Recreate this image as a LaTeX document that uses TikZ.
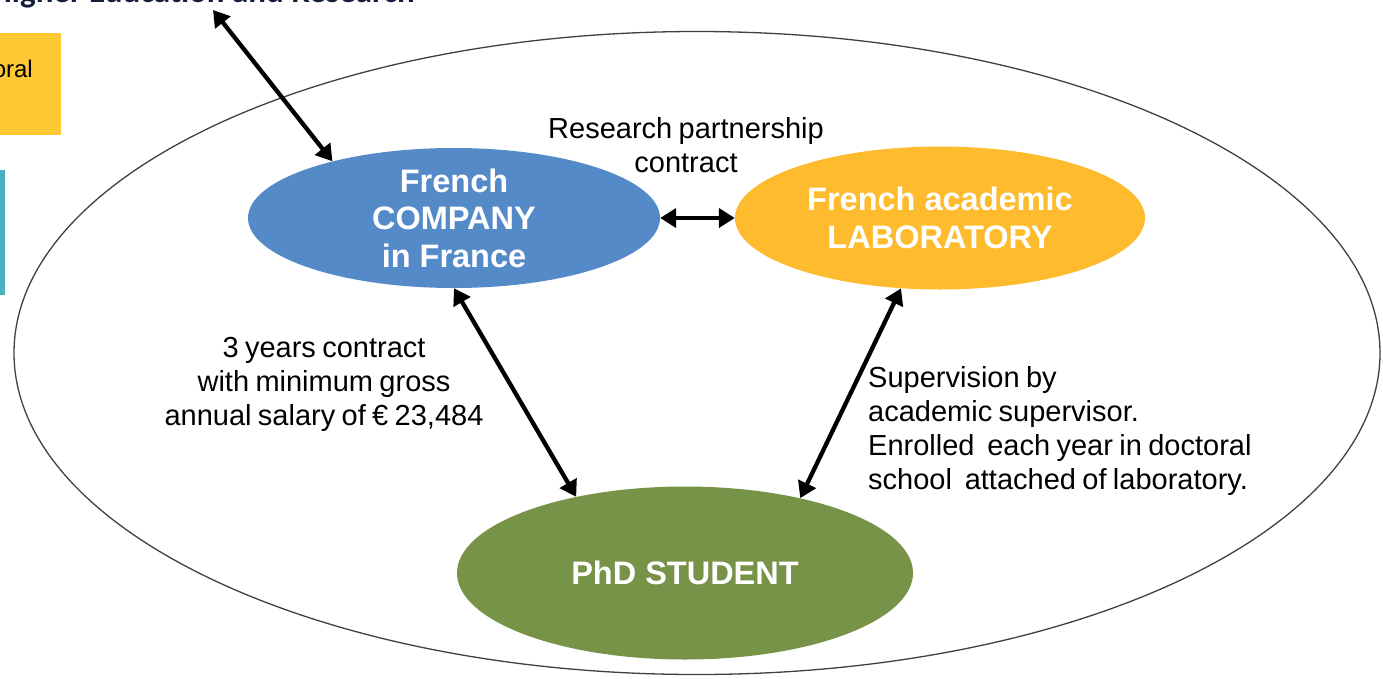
\documentclass[tikz,border=0pt]{standalone}
\usepackage{fontspec}
\setmainfont{Liberation Sans}
\newfontfamily\calib{Carlito}
\usetikzlibrary{shapes.geometric,arrows.meta}
\definecolor{cblue}{RGB}{85,138,201}
\definecolor{corange}{RGB}{253,187,45}
\definecolor{cgreen}{RGB}{119,147,72}
\definecolor{cyellow}{RGB}{255,201,54}
\definecolor{cteal}{RGB}{70,178,192}
\definecolor{cnavy}{RGB}{20,30,60}
\newcommand\mytightsp{\spaceskip=0.22em plus 0.05em\relax}
\tikzset{
  x=1pt,y=-1pt,
  party/.style={ellipse,inner sep=0pt,text=white,align=center,
    font=\fontsize{32.5}{37.5}\selectfont\bfseries},
  lbl/.style={text=black,font=\fontsize{29}{34}\selectfont\mytightsp,inner sep=0pt},
  link/.style={line width=4.3pt,{Triangle[length=16pt,width=19pt]}-{Triangle[length=16pt,width=19pt]}},
}
\begin{document}
\begin{tikzpicture}
\useasboundingbox (0,0) rectangle (1383,678);
\clip (0,0) rectangle (1383,678);
% partial elements at the cut edges
\node[fill=cyellow,minimum width=100pt,minimum height=102pt,inner sep=0pt] (ybox) at (11,84) {};
\node[anchor=base east,font=\fontsize{24}{28}\selectfont,inner sep=0pt] (ytxt) at (33,77) {Doctoral};
\node[fill=cteal,minimum width=40pt,minimum height=125pt,inner sep=0pt] (tbox) at (-15,232) {};
\node[anchor=base east,text=cnavy,font=\fontsize{33}{36}\selectfont\calib\bfseries,inner sep=0pt] (mesr) at (415,2) {Ministry of Higher Education and Research};
\coordinate (mtop) at (213,10);
% outer ellipse
\node[ellipse,draw=black!75,line width=1.3pt,minimum width=1366pt,minimum height=643pt,inner sep=0pt] (outer) at (697,353) {};
% parties
\node[party,fill=cblue,minimum width=412pt,minimum height=140pt] (comp) at (454,218) {French\\COMPANY\\in France};
\node[party,fill=corange,minimum width=410pt,minimum height=143pt] (lab) at (940,218) {French academic\\LABORATORY};
\node[party,fill=cgreen,minimum width=456pt,minimum height=173pt] (phd) at (685,573) {PhD STUDENT};
% labels
\node[lbl,align=center] (rpc) at (686,145) {Research partnership\\contract};
\node[lbl,align=center] (sal) at (324,384) {3 years contract\\with minimum gross\\annual salary of € 23,484};
\node[lbl,align=left,anchor=north west] (sup) at (868,366) {Supervision by\\academic supervisor.\\Enrolled \ each year in doctoral\\school \ attached of laboratory.};
% connectors
\draw[link] (mtop) -- (comp.155);
\draw[link] (comp.east) -- (lab.west);
\draw[link] (comp.south) -- (phd.145);
\draw[link] (lab.241) -- (phd.33);
\end{tikzpicture}
\end{document}
